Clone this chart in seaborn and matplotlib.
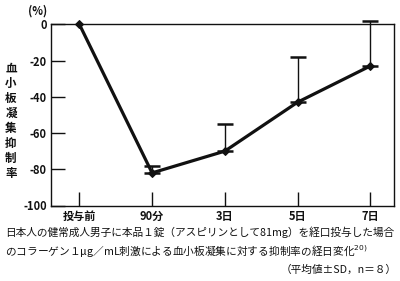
import matplotlib
matplotlib.use("Agg")
import matplotlib.pyplot as plt
import seaborn as sns
import pandas as pd

categories = ["投与前", "90分", "3日", "5日", "7日"]
means = [0, -82, -70, -43, -23]
sd_upper = [0, 4, 15, 25, 25]
yticks = [0, -20, -40, -60, -80, -100]

sns.set_theme(style="white")
plt.rcParams['font.family'] = ['Noto Sans CJK JP', 'DejaVu Sans']

fig = plt.figure(figsize=(4.0, 2.81), dpi=100)
ax = fig.add_axes([51/400, 1 - 205.5/281, (394.3 - 51)/400, (205.5 - 24.3)/281])

df = pd.DataFrame({"x": range(len(categories)), "y": means})
sns.lineplot(data=df, x="x", y="y", ax=ax, color="#111111", linewidth=2.3,
             marker="D", markersize=4, markeredgecolor="#111111", zorder=3)
for ln in ax.lines:
    ln.set_clip_on(False)
errx = [i for i, s in enumerate(sd_upper) if s > 0]
erry = [means[i] for i in errx]
errs = [sd_upper[i] for i in errx]
ax.errorbar(errx, erry, yerr=[[0]*len(errs), errs], fmt="none", ecolor="#111111",
            elinewidth=1.0, capsize=6, capthick=1.8, clip_on=False, zorder=2)

ax.set_xlim(-0.39, 4.33)
ax.set_ylim(-100, 0)
ax.set_xticks(range(len(categories)))
ax.set_xticklabels(categories, fontsize=8, fontweight="bold")
ax.set_yticks(yticks)
ax.set_yticklabels([str(v) for v in yticks], fontsize=8, fontweight="bold")
ax.tick_params(axis="both", direction="in", length=10, width=1.0, color="#111111",
               bottom=True, left=True, pad=3, labelcolor="#111111")
ax.set_xlabel("")
ax.set_ylabel("")
for sp in ax.spines.values():
    sp.set_color("#111111")
    sp.set_linewidth(1.0)

fig.text(38/400, 1 - 11/281, "(%)", fontsize=8, fontweight="bold", ha="center", va="center", color="#111111")
fig.text(11/400, 1 - 121/281, "\n".join("血小板凝集抑制率"), fontsize=8.3, fontweight="bold",
         ha="center", va="center", linespacing=1.2, color="#111111")

fig.text(5/400, 1 - 232/281, "日本人の健常成人男子に本品１錠（アスピリンとして81mg）を経口投与した場合",
         fontsize=7.7, ha="left", va="center", color="#111111")
fig.text(5/400, 1 - 251/281, "のコラーゲン１μg／mL刺激による血小板凝集に対する抑制率の経日変化$^{20)}$",
         fontsize=7.7, ha="left", va="center", color="#111111")
fig.text(397/400, 1 - 270/281, "（平均値±SD，n＝８）",
         fontsize=7.7, ha="right", va="center", color="#111111")

fig.savefig("out.png", dpi=100)
